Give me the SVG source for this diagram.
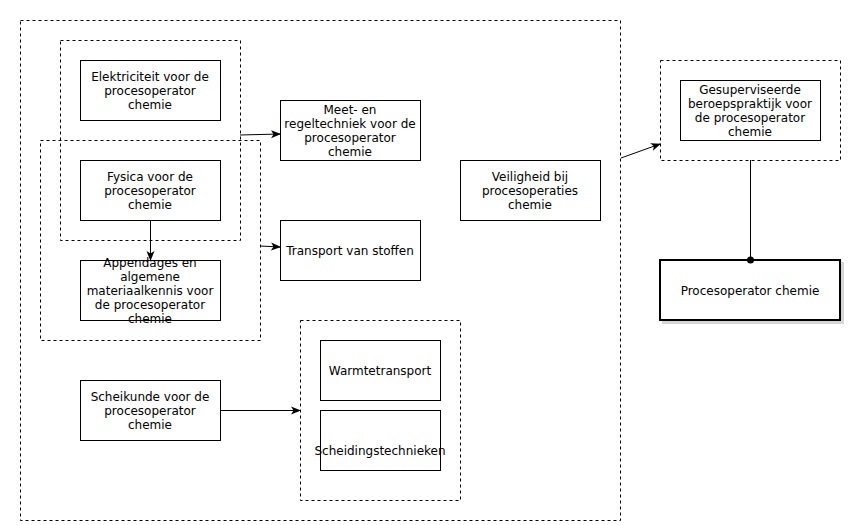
<svg xmlns="http://www.w3.org/2000/svg" width="848" height="525" viewBox="0 0 848 525">
<style>
.box{fill:#fff;stroke:#000;stroke-width:1}
.grp{fill:none;stroke:#000;stroke-width:1;stroke-dasharray:3 3}
.edge{fill:none;stroke:#000;stroke-width:1}
text{font-family:"DejaVu Sans",Verdana,sans-serif;font-size:12px;fill:#000;text-anchor:middle}
</style>
<defs>
<marker id="arr" viewBox="0 0 10 10" refX="9" refY="5" markerWidth="10" markerHeight="10" markerUnits="userSpaceOnUse" orient="auto">
<path d="M0,1 L10,5 L0,9 L2.5,5 Z" fill="#000"/>
</marker>
<marker id="dot" viewBox="0 0 8 8" refX="4" refY="4" markerWidth="8" markerHeight="8" markerUnits="userSpaceOnUse" orient="auto">
<circle cx="4" cy="4" r="3.5" fill="#000"/>
</marker>
<filter id="sh" x="-10%" y="-10%" width="130%" height="140%">
<feOffset dx="3" dy="3" in="SourceAlpha" result="o"/>
<feColorMatrix in="o" type="matrix" values="0 0 0 0 0.5  0 0 0 0 0.5  0 0 0 0 0.5  0 0 0 0.6 0" result="c"/>
<feMerge><feMergeNode in="c"/><feMergeNode in="SourceGraphic"/></feMerge>
</filter>
</defs>

<g id="outer-group"><rect class="grp" x="20.5" y="20.5" width="600" height="500"/></g>
<g id="group-elektriciteit-fysica"><rect class="grp" x="60.5" y="40.5" width="180" height="200"/></g>
<g id="group-fysica-appendages"><rect class="grp" x="40.5" y="140.5" width="220" height="200"/></g>
<g id="group-warmte-scheiding"><rect class="grp" x="300.5" y="320.5" width="160" height="180"/></g>
<g id="group-gesuperviseerde"><rect class="grp" x="660.5" y="60.5" width="180" height="100"/></g>

<g id="elektriciteit"><rect class="box" x="80.5" y="60.5" width="140" height="60"/>
<text x="150" y="81">Elektriciteit voor de</text><text x="150" y="95">procesoperator</text><text x="150" y="109">chemie</text></g>

<g id="fysica"><rect class="box" x="80.5" y="160.5" width="140" height="60"/>
<text x="150" y="181">Fysica voor de</text><text x="150" y="195">procesoperator</text><text x="150" y="209">chemie</text></g>

<g id="appendages"><rect class="box" x="80.5" y="260.5" width="140" height="60"/>
<text x="150" y="267">Appendages en</text><text x="150" y="281">algemene</text><text x="150" y="295">materiaalkennis voor</text><text x="150" y="309">de procesoperator</text><text x="150" y="323">chemie</text></g>

<g id="meet"><rect class="box" x="280.5" y="100.5" width="140" height="60"/>
<text x="350" y="114">Meet- en</text><text x="350" y="128">regeltechniek voor de</text><text x="350" y="142">procesoperator</text><text x="350" y="156">chemie</text></g>

<g id="transport"><rect class="box" x="280.5" y="220.5" width="140" height="60"/>
<text x="350" y="255">Transport van stoffen</text></g>

<g id="veiligheid"><rect class="box" x="460.5" y="160.5" width="140" height="60"/>
<text x="530" y="181">Veiligheid bij</text><text x="530" y="195">procesoperaties</text><text x="530" y="209">chemie</text></g>

<g id="scheikunde"><rect class="box" x="80.5" y="380.5" width="140" height="60"/>
<text x="150" y="401">Scheikunde voor de</text><text x="150" y="415">procesoperator</text><text x="150" y="429">chemie</text></g>

<g id="warmtetransport"><rect class="box" x="320.5" y="340.5" width="120" height="60"/>
<text x="380" y="375">Warmtetransport</text></g>

<g id="scheidingstechnieken"><rect class="box" x="320.5" y="410.5" width="120" height="60"/>
<text x="380" y="455">Scheidingstechnieken</text></g>

<g id="gesuperviseerde"><rect class="box" x="680.5" y="80.5" width="140" height="60"/>
<text x="750" y="94">Gesuperviseerde</text><text x="750" y="108">beroepspraktijk voor</text><text x="750" y="122">de procesoperator</text><text x="750" y="136">chemie</text></g>

<g id="procesoperator"><rect x="660" y="260" width="180" height="60" fill="#fff" stroke="#000" stroke-width="2" filter="url(#sh)"/>
<text x="750" y="295">Procesoperator chemie</text></g>

<g id="connectors">
<path class="edge" d="M240,135 L280,134" marker-end="url(#arr)"/>
<path class="edge" d="M260,246 L280,247" marker-end="url(#arr)"/>
<path class="edge" d="M150.5,220 L150.5,260" marker-end="url(#arr)"/>
<path class="edge" d="M220,410.5 L300,410.5" marker-end="url(#arr)"/>
<path class="edge" d="M621,158 L660,144" marker-end="url(#arr)"/>
<path class="edge" d="M750.5,160 L750.5,260" marker-end="url(#dot)"/>
</g>
</svg>
